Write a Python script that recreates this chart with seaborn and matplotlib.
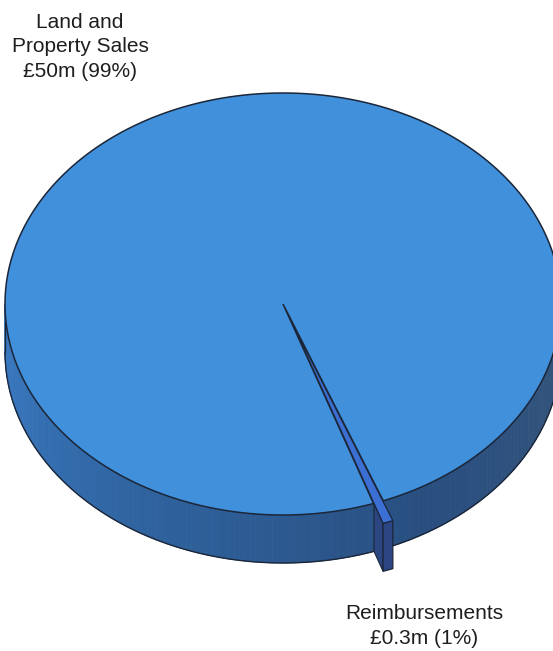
import numpy as np
import matplotlib
matplotlib.use("Agg")
import matplotlib.pyplot as plt
from matplotlib.patches import Polygon
import seaborn as sns

# Income sources (£m) and their labels
categories = ["Land and\nProperty Sales", "Reimbursements"]
values = [50.0, 0.3]
value_labels = ["£50m (99%)", "£0.3m (1%)"]

sns.set_theme(style="white")
plt.rcParams["font.family"] = ["Liberation Sans", "DejaVu Sans"]

W, H = 553, 651
fig = plt.figure(figsize=(W / 100, H / 100), dpi=100)
ax = fig.add_axes([0, 0, 1, 1])
ax.set_xlim(0, W)
ax.set_ylim(H, 0)
ax.axis("off")

# 3-D pie geometry (tilted disc)
cx, cy = 283.0, 304.0
rx, ry = 278.0, 211.0
depth = 48.0
explode = [0.0, 0.10]
small_edge = -71.0            # angle (deg) where the small slice begins

top_col = "#4190dc"
small_top_col = "#3c6fd3"
small_side_col = "#2c4684"
edge_col = "#1b2638"
side_pal = sns.blend_palette(["#3a7bc4", "#2f639f", "#294f80", "#35557a"], 160)

vals = np.asarray(values)
frac = vals / vals.sum()
spans = 360.0 * frac
# slices run counter-clockwise; the last one starts at small_edge
starts = [small_edge - spans[0], small_edge]
ends = [small_edge, small_edge + spans[1]]


def rim(t_deg, r=1.0, dx=0.0, dy=0.0, drop=0.0):
    t = np.radians(t_deg)
    return (cx + r * rx * np.cos(t) + dx, cy - r * ry * np.sin(t) + dy + drop)


def offset(i):
    mid = np.radians((starts[i] + ends[i]) / 2)
    return explode[i] * rx * np.cos(mid), -explode[i] * ry * np.sin(mid)


# --- side wall of the large slice (front half of the disc)
ts = np.linspace(-180, 0, 161)
for k in range(len(ts) - 1):
    a, b = ts[k], ts[k + 1]
    poly = [rim(a), rim(b), rim(b, drop=depth), rim(a, drop=depth)]
    c = side_pal[k]
    ax.add_patch(Polygon(poly, closed=True, facecolor=c, edgecolor=c, lw=0.6, zorder=1))
bottom = np.array([rim(t, drop=depth) for t in ts])
ax.plot(bottom[:, 0], bottom[:, 1], color=edge_col, lw=1.0, zorder=2)
for t in (-180, 0):
    p, q = rim(t), rim(t, drop=depth)
    ax.plot([p[0], q[0]], [p[1], q[1]], color=edge_col, lw=1.0, zorder=2)

# --- top face of the large slice
tt = np.linspace(starts[0], ends[0], 600)
top = [(cx, cy)] + [rim(t) for t in tt]
ax.add_patch(Polygon(top, closed=True, facecolor=top_col, edgecolor=edge_col,
                     lw=1.1, zorder=4))

# --- exploded slice: exposed part of its radial wall, outer wall, top face
ox, oy = offset(1)
r_in = 1.0 - explode[1]
wall = [rim(starts[1], r=r_in, dx=ox, dy=oy), rim(starts[1], dx=ox, dy=oy),
        rim(starts[1], dx=ox, dy=oy, drop=depth), rim(starts[1], r=r_in, dx=ox, dy=oy, drop=depth)]
ax.add_patch(Polygon(wall, closed=True, facecolor=small_side_col, edgecolor=edge_col,
                     lw=0.8, zorder=5))

ta = np.linspace(starts[1], ends[1], 20)
front = [rim(t, dx=ox, dy=oy) for t in ta] + [rim(t, dx=ox, dy=oy, drop=depth) for t in ta[::-1]]
ax.add_patch(Polygon(front, closed=True, facecolor=small_side_col, edgecolor=edge_col,
                     lw=0.9, zorder=6))

stop = [(cx + ox, cy + oy)] + [rim(t, dx=ox, dy=oy) for t in ta]
ax.add_patch(Polygon(stop, closed=True, facecolor=small_top_col, edgecolor=edge_col,
                     lw=0.9, zorder=7))

# --- labels
ax.text(80, 77, f"{categories[0]}\n{value_labels[0]}", ha="center", va="baseline",
        fontsize=15, color="#1e1e1e", linespacing=1.38)
ax.text(424, 644, f"{categories[1]}\n{value_labels[1]}", ha="center", va="baseline",
        fontsize=15, color="#1e1e1e", linespacing=1.38)

fig.savefig("out.png", dpi=100, facecolor="white")
